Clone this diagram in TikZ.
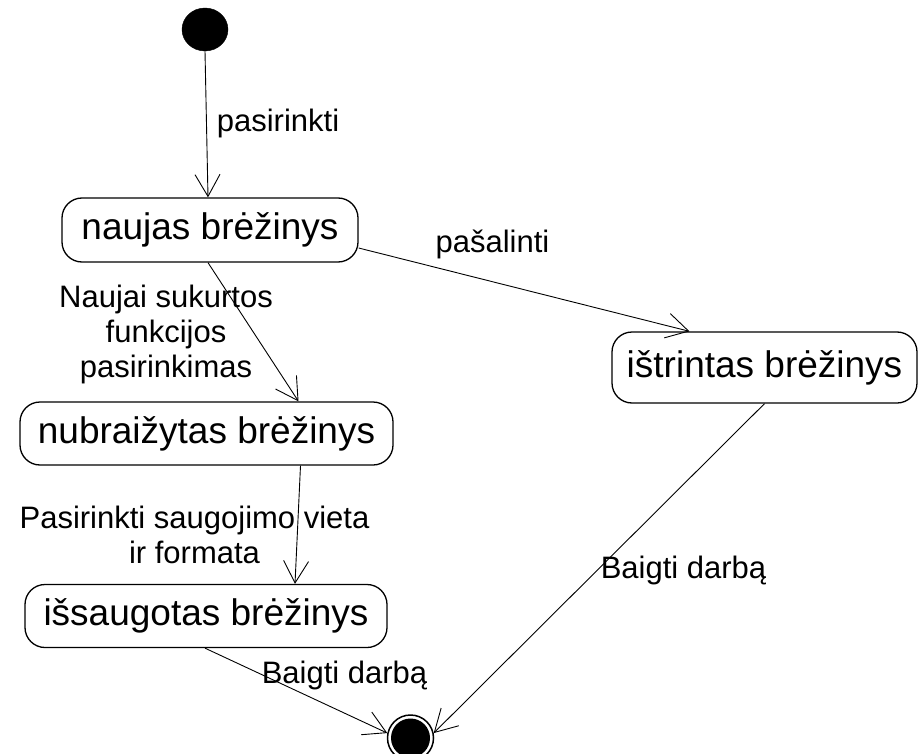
\documentclass[tikz,border=0pt]{standalone}
\usepackage{fontspec}
\setmainfont{Liberation Sans}
\usetikzlibrary{arrows.meta,shapes.geometric,calc}

\begin{document}
\begin{tikzpicture}[x=1pt,y=-1pt,
  state/.style={draw, line width=1.3pt, rounded corners=20pt, inner sep=0pt,
    font=\fontsize{37}{40}\selectfont},
  trans/.style={line width=0.9pt,
    -{Straight Barb[length=22pt,width=25pt,line width=0.9pt]}},
  lbl/.style={inner sep=0pt, anchor=base, align=center,
    font=\fontsize{31}{35}\selectfont}]

\useasboundingbox (0,0) rectangle (923,754);

% initial and final pseudo-states
\node[draw, fill, ellipse, minimum width=46pt, minimum height=43pt, inner sep=0pt] (init) at (205,29.5) {};
\node[circle, draw, line width=1.5pt, minimum size=46pt, inner sep=0pt,
  path picture={\fill (path picture bounding box.center) circle (19.5pt);}] (fin) at (410.5,738) {};

% states
\node[state, minimum width=296pt, minimum height=64pt] (naujas) at (210,230) {naujas brėžinys};
\node[state, minimum width=305pt, minimum height=71pt] (istr) at (764.5,367.5) {ištrintas brėžinys};
\node[state, minimum width=373pt, minimum height=63pt] (nubr) at (206.5,433.5) {nubraižytas brėžinys};
\node[state, minimum width=362pt, minimum height=63pt] (issaug) at (206,616) {išsaugotas brėžinys};

% transitions
\draw[trans] (init.south) -- ([xshift=-2pt]naujas.north);
\draw[trans] ([xshift=-2pt]naujas.south) -- ([xshift=92pt]nubr.north);
\draw[trans] ([yshift=-18pt]naujas.east) -- ([xshift=-75pt]istr.north);
\draw[trans] ([xshift=94pt]nubr.south) -- ([xshift=89pt]issaug.north);
\draw[trans] ([xshift=-1pt]issaug.south) -- (fin.168);
\draw[trans] (istr.south) -- (fin.12);

% transition labels (base = baseline of the last line)
\node[lbl] (lpas) at (278,132) {pasirinkti};
\node[lbl] (lsal) at (492.5,252) {pašalinti};
\node[lbl] (lnau) at (166,377) {Naujai sukurtos\\funkcijos\\pasirinkimas};
\node[lbl] (lsau) at (194.5,563) {Pasirinkti saugojimo vieta\\ir formata};
\node[lbl] (lb1) at (344.5,683) {Baigti darbą};
\node[lbl] (lb2) at (683.5,578) {Baigti darbą};
\end{tikzpicture}
\end{document}
